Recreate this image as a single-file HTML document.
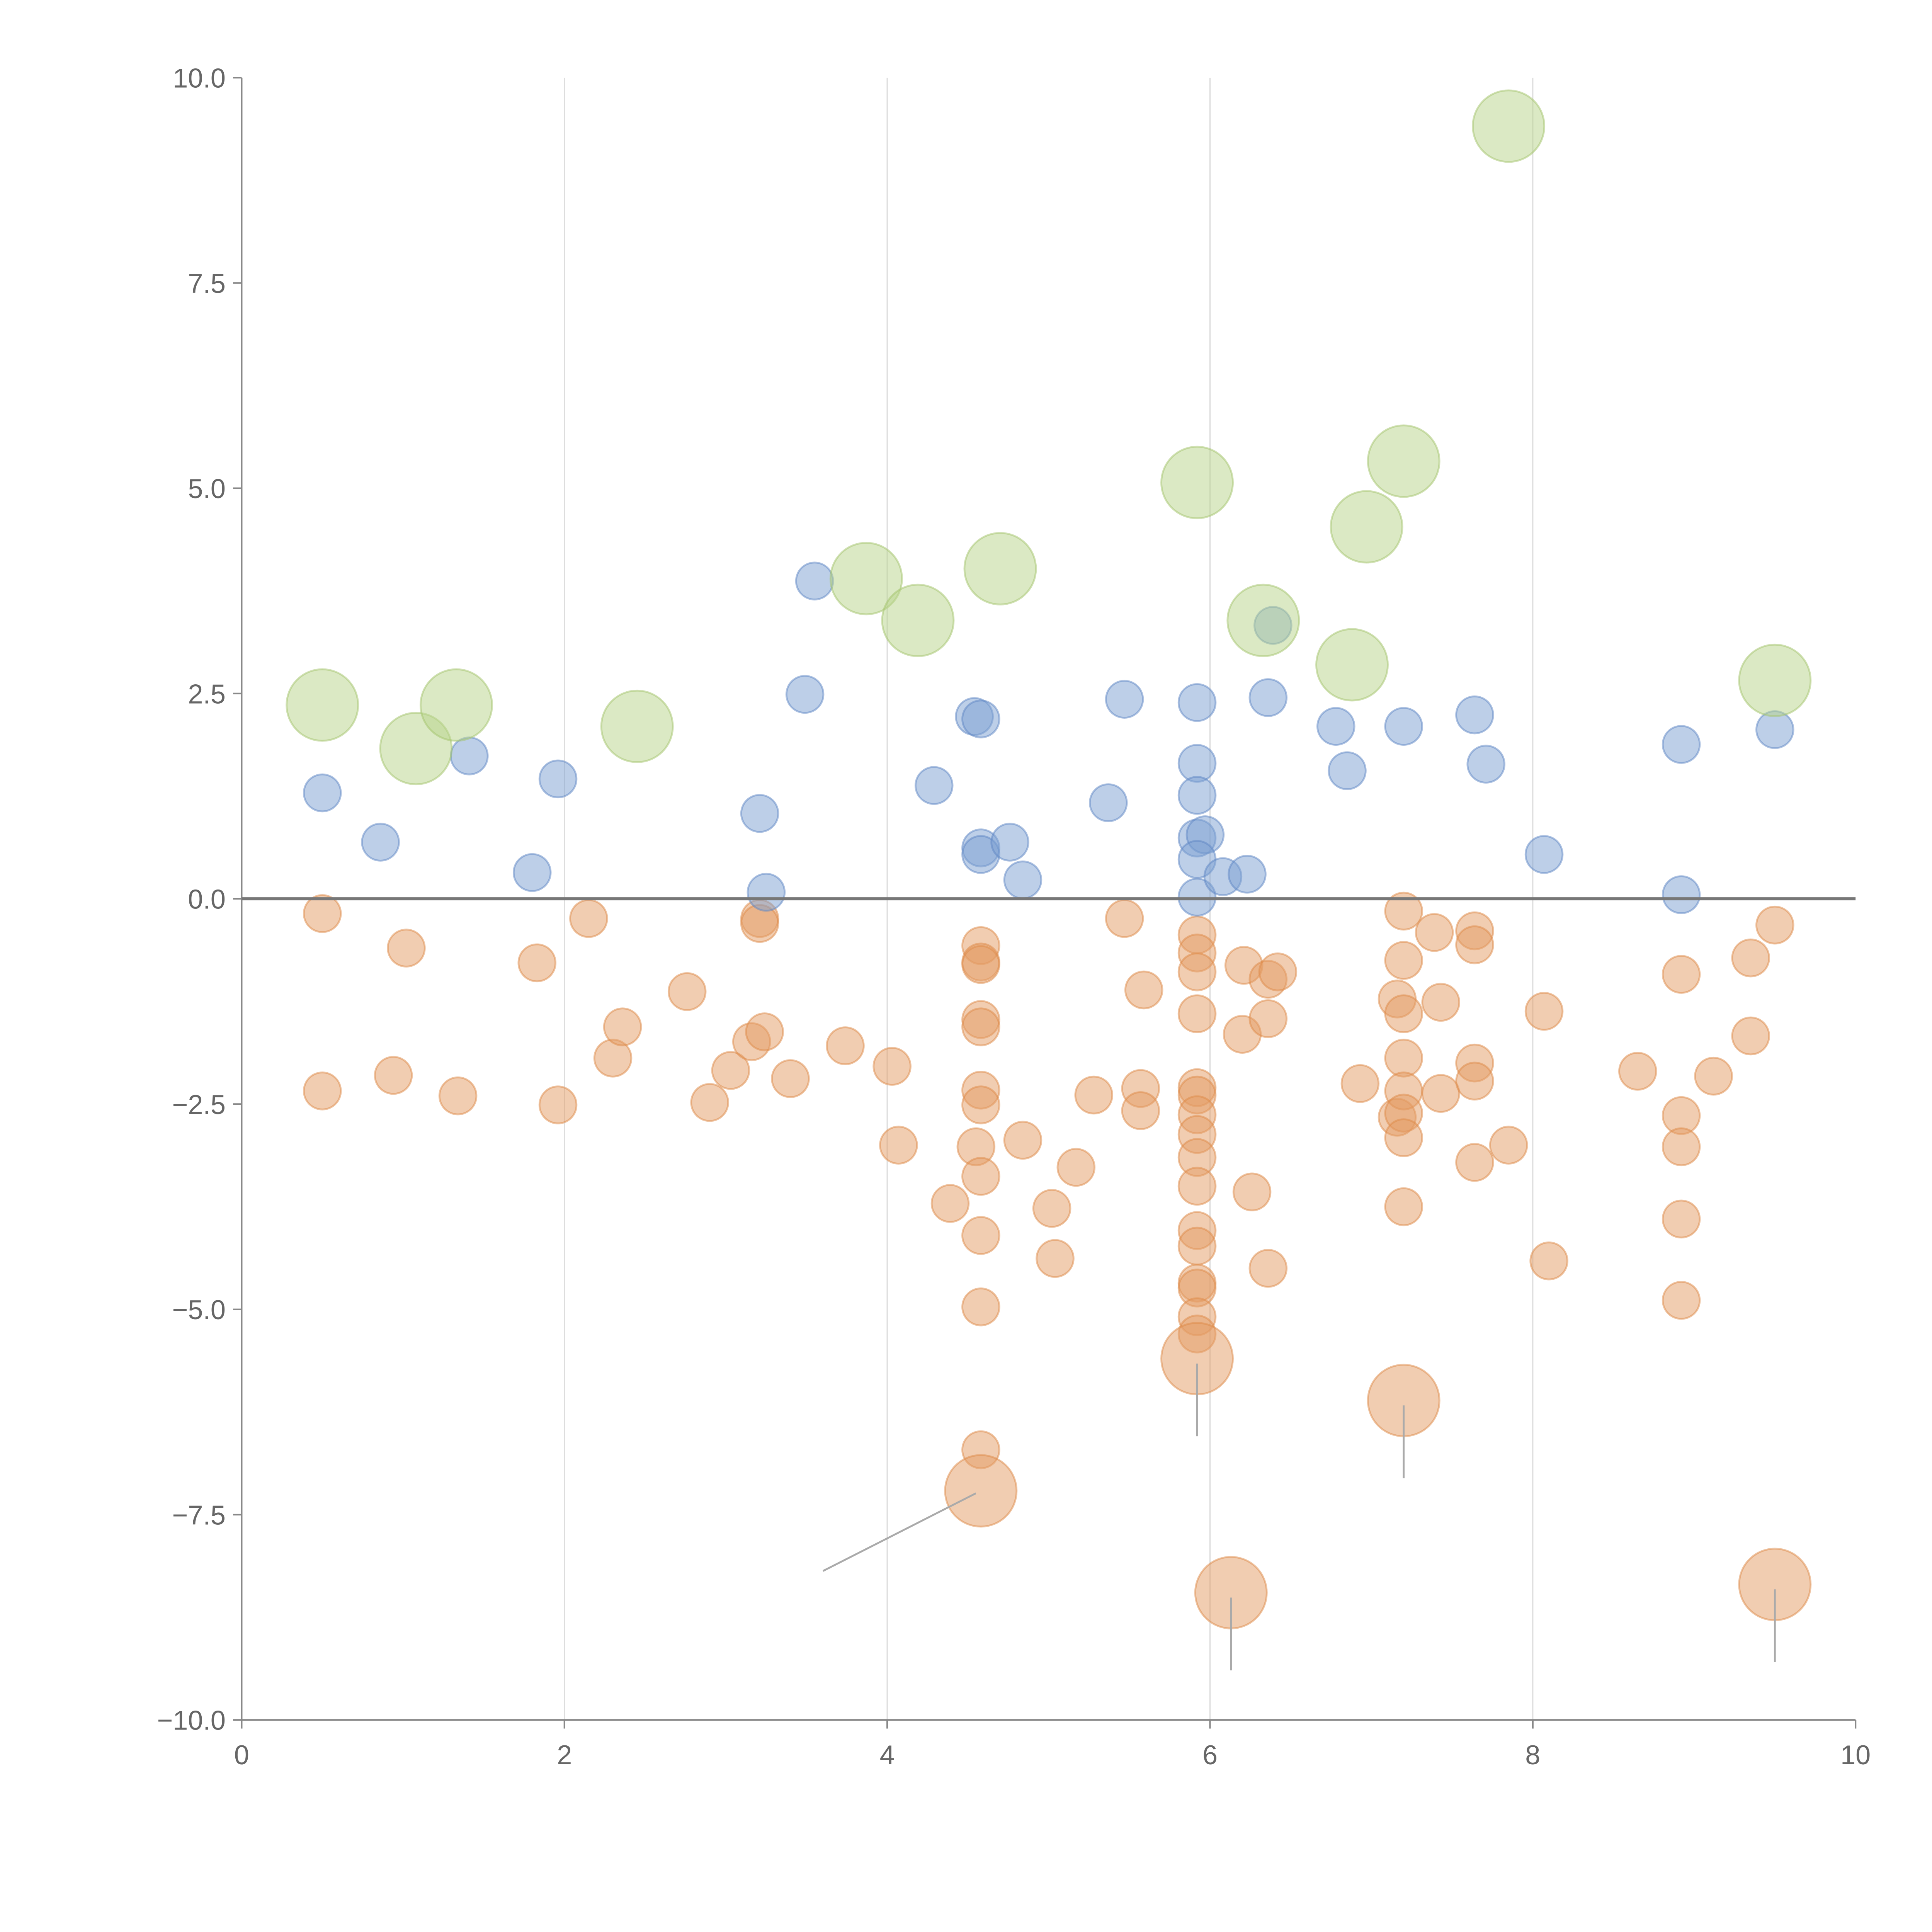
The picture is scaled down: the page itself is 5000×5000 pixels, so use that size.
<!DOCTYPE html>
<html><head><meta charset="utf-8"><style>html,body{margin:0;padding:0;background:#fff}svg{display:block}text{font-family:"Liberation Sans",sans-serif;fill:#666}</style></head>
<body>
<svg id="chart" width="5000" height="5000" viewBox="0 0 1567 1567" xmlns="http://www.w3.org/2000/svg">
<g id="grid"></g>
<g id="axes"></g>
<g id="marks"></g>
</svg>
<script>
const xTicks=[0,2,4,6,8,10];
const yTicks=[10,7.5,5,2.5,0,-2.5,-5,-7.5,-10];
const greenX=[0.5,1.08,1.33,2.45,3.87,4.19,4.70,5.92,6.33,6.88,6.97,7.2,7.85,9.5];
const greenY=[2.36,1.83,2.36,2.1,3.9,3.39,4.02,5.07,3.39,2.85,4.53,5.33,9.41,2.66];
const blueX=[0.5,0.86,1.41,1.8,1.96,3.21,3.25,3.49,3.55,4.29,4.54,4.58,4.58,4.58,4.76,4.84,5.37,5.47,5.92,5.92,5.92,5.92,5.97,5.92,5.92,6.08,6.23,6.36,6.39,6.78,6.85,7.2,7.64,7.71,8.07,8.92,8.92,9.5];
const blueY=[1.29,0.69,1.74,0.32,1.46,1.04,0.08,2.49,3.87,1.38,2.22,2.19,0.62,0.54,0.69,0.23,1.17,2.43,2.39,1.65,1.26,0.74,0.78,0.48,0.02,0.27,0.3,2.45,3.33,2.1,1.56,2.1,2.24,1.64,0.54,1.88,0.05,2.06];
const orangeX=[0.5,0.5,0.94,1.02,1.34,1.83,1.96,2.15,2.3,2.36,2.76,2.9,3.03,3.16,3.21,3.21,3.24,3.4,3.74,4.03,4.07,4.39,4.55,4.58,4.58,4.58,4.58,4.58,4.58,4.58,4.58,4.58,4.58,4.58,4.84,5.02,5.04,5.17,5.28,5.47,5.57,5.57,5.59,5.92,5.92,5.92,5.92,5.92,5.92,5.92,5.92,5.92,5.92,5.92,5.92,5.92,5.92,5.92,5.92,6.2,6.21,6.26,6.36,6.36,6.36,6.42,6.93,7.16,7.16,7.2,7.2,7.2,7.2,7.2,7.2,7.2,7.2,7.39,7.43,7.43,7.64,7.64,7.64,7.64,7.64,7.85,8.07,8.1,8.65,8.92,8.92,8.92,8.92,8.92,9.12,9.35,9.35,9.5];
const orangeY=[-0.18,-2.34,-2.15,-0.6,-2.4,-0.78,-2.51,-0.24,-1.94,-1.56,-1.13,-2.48,-2.09,-1.74,-0.24,-0.3,-1.62,-2.19,-1.79,-2.04,-3.0,-3.71,-3.02,-0.57,-0.77,-0.8,-1.47,-1.56,-2.33,-2.51,-3.38,-4.1,-4.97,-6.71,-2.94,-3.77,-4.38,-3.27,-2.39,-0.24,-2.31,-2.58,-1.11,-0.44,-0.66,-0.89,-1.4,-2.3,-2.39,-2.63,-2.87,-3.15,-3.5,-4.04,-4.23,-4.68,-4.74,-5.09,-5.3,-1.65,-0.81,-3.57,-0.98,-1.46,-4.5,-0.89,-2.25,-1.22,-2.66,-0.15,-0.75,-1.4,-1.94,-2.34,-2.61,-2.91,-3.75,-0.41,-1.26,-2.37,-0.39,-0.56,-2.0,-2.22,-3.21,-3.0,-1.37,-4.41,-2.1,-0.92,-2.64,-3.02,-3.9,-4.89,-2.16,-0.72,-1.67,-0.32];
const bigOrangeX=[4.58,5.92,7.2,6.13,9.5];
const bigOrangeY=[-7.21,-5.6,-6.11,-8.45,-8.35];
const xAxisTicks=["0","2","4","6","8","10"];
const yAxisTicks=["10.0","7.5","5.0","2.5","0.0","−2.5","−5.0","−7.5","−10.0"];

const NS="http://www.w3.org/2000/svg";
const X=v=>196+v*130.9, Y=v=>729-v*66.6;
function mk(tag,attrs,parent){const e=document.createElementNS(NS,tag);for(const k in attrs)e.setAttribute(k,attrs[k]);parent.appendChild(e);return e;}
const grid=document.getElementById('grid'),axes=document.getElementById('axes'),marks=document.getElementById('marks');

[2,4,6,8].forEach(v=>{const l=mk('line',{x1:X(v),x2:X(v),y1:Y(10),y2:Y(-10),stroke:'#ddd','stroke-width':1},grid);

});

let a=mk('line',{x1:X(0),x2:X(0),y1:Y(10),y2:Y(-10),stroke:'#888','stroke-width':1.3},axes);


a=mk('line',{x1:X(0),x2:X(10),y1:Y(-10),y2:Y(-10),stroke:'#888','stroke-width':1.3},axes);


xTicks.forEach((v,i)=>{mk('line',{x1:X(v),x2:X(v),y1:Y(-10),y2:Y(-10)+7,stroke:'#888','stroke-width':1.3},axes);
const t=mk('text',{x:X(v),y:Y(-10)+36,'text-anchor':'middle','font-size':22},axes);t.textContent=xAxisTicks[i];

});
yTicks.forEach((v,i)=>{mk('line',{x1:X(0)-7,x2:X(0),y1:Y(v),y2:Y(v),stroke:'#888','stroke-width':1.3},axes);
const t=mk('text',{x:X(0)-13,y:Y(v)+8,'text-anchor':'end','font-size':22},axes);t.textContent=yAxisTicks[i];

});

function dots(xs,ys,r,fill,stroke,name){xs.forEach((x,i)=>{const c=mk('circle',{cx:X(x),cy:Y(ys[i]),r:r,fill:fill,'fill-opacity':0.5,stroke:stroke,'stroke-opacity':0.5,'stroke-width':1.5},marks);

});}
dots(orangeX,orangeY,15,'#e49c63','#dd8a48','orange-point');
dots(blueX,blueY,15,'#7b9fd2','#5d86c4','blue-point');
dots(greenX,greenY,29,'#b8d38a','#a3c46c','green-bubble');
dots(bigOrangeX,bigOrangeY,29,'#e49c63','#dd8a48','orange-bubble');

bigOrangeX.forEach((x,i)=>{const cx=X(x),cy=Y(bigOrangeY[i]);let l;
if(i===0){l=mk('line',{x1:cx-4,y1:cy+2,x2:cx-128,y2:cy+65,stroke:'#aaa','stroke-width':1.5},marks);}
else{l=mk('line',{x1:cx,y1:cy+4,x2:cx,y2:cy+63,stroke:'#aaa','stroke-width':1.5},marks);}

});

const z=mk('line',{x1:X(0),x2:X(10),y1:Y(0),y2:Y(0),stroke:'#777','stroke-width':2.5},marks);


</script>
</body></html>
